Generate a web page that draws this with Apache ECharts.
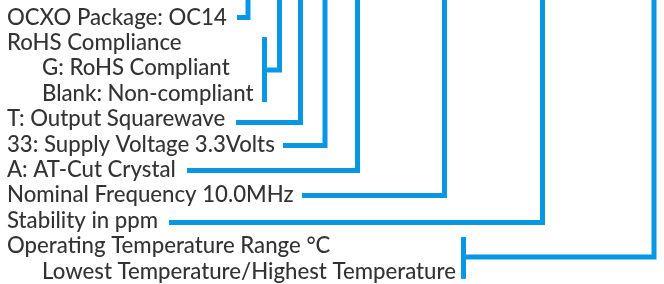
<!DOCTYPE html>
<html>
<head>
<meta charset="utf-8">
<script src="https://cdn.jsdelivr.net/npm/echarts@6/dist/echarts.min.js"></script>
<style>
  html, body { margin: 0; padding: 0; background: #fff; }
  #chart { width: 664px; height: 284px; }
</style>
</head>
<body>
<div id="chart"></div>
<script>
// part-number key text, one row each
const labels = [
  'OCXO Package: OC14',
  'RoHS Compliance',
  'G: RoHS Compliant',
  'Blank: Non-compliant',
  'T: Output Squarewave',
  '33: Supply Voltage 3.3Volts',
  'A: AT-Cut Crystal',
  'Nominal Frequency 10.0MHz',
  'Stability in ppm',
  'Operating Temperature Range °C',
  'Lowest Temperature/Highest Temperature'
];
const indents = [0, 0, 1, 1, 0, 0, 0, 0, 0, 0, 1];

// leader lines: where each starts, which row it runs along, which column it rises at
const leaderStartX = [237, 264.5, 236, 283, 187, 302, 169, 463.5];
const leaderRow = [0, 2.07, 4.13, 5.04, 6.02, 7.01, 8.07, 9.43];
const columnX = [248, 279.5, 300.5, 325, 357.5, 444.5, 542.5, 654];

// brackets grouping sub-options: [x, fromRow, toRow]
const brackets = [
  [264.5, 0.77, 3.33],
  [463.5, 8.64, 10.29]
];

const BLUE = '#0898e3';
const FONT = 'Lato';

const lineStyle = { color: BLUE, width: 5, join: 'miter', cap: 'butt' };

const series = [];

leaderStartX.forEach((x0, i) => {
  series.push({
    type: 'line',
    data: [[x0, leaderRow[i]], [columnX[i], leaderRow[i]], [columnX[i], -2]],
    showSymbol: false,
    lineStyle: lineStyle,
    silent: true
  });
});

brackets.forEach(b => {
  series.push({
    type: 'line',
    data: [[b[0], b[1]], [b[0], b[2]]],
    showSymbol: false,
    lineStyle: lineStyle,
    silent: true
  });
});

series.push({
  type: 'scatter',
  symbolSize: 0,
  data: labels.map((t, i) => ({ value: [indents[i] ? 42 : 7, i], name: t })),
  label: {
    show: true,
    position: 'right',
    distance: 0,
    formatter: p => p.name,
    color: '#000',
    fontFamily: FONT,
    fontWeight: 500,
    fontSize: 22.2
  },
  silent: true
});

const chart = echarts.init(document.getElementById('chart'), null, { renderer: 'canvas' });
chart.setOption({
  animation: false,
  backgroundColor: '#fff',
  grid: { left: 0, right: 0, top: 0, bottom: 0 },
  xAxis: { type: 'value', min: 0, max: 664, show: false },
  yAxis: { type: 'value', min: -0.689, max: 10.492, inverse: true, show: false },
  series: series
});
</script>
</body>
</html>
